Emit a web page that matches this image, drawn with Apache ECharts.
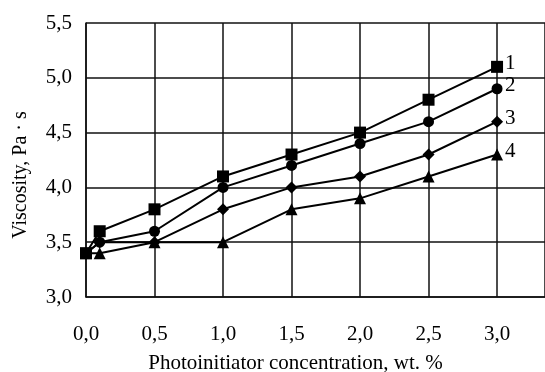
<!DOCTYPE html>
<html>
<head>
<meta charset="utf-8">
<script src="https://cdn.jsdelivr.net/npm/echarts@6/dist/echarts.min.js"></script>
<style>
  html, body { margin: 0; padding: 0; background: #fff; }
  #chart { width: 545px; height: 372px; }
</style>
</head>
<body>
<div id="chart"></div>
<script>
// photoinitiator concentration, wt. %
const conc = [0.0, 0.1, 0.5, 1.0, 1.5, 2.0, 2.5, 3.0]
// viscosity, Pa·s, curves 1..4
const visc1 = [3.4, 3.6, 3.8, 4.1, 4.3, 4.5, 4.8, 5.1]
const visc2 = [3.4, 3.5, 3.6, 4.0, 4.2, 4.4, 4.6, 4.9]
const visc3 = [3.4, 3.5, 3.5, 3.8, 4.0, 4.1, 4.3, 4.6]
const visc4 = [3.4, 3.4, 3.5, 3.5, 3.8, 3.9, 4.1, 4.3]
const curveNames = ['1', '2', '3', '4']
const symbols = ['rect', 'circle', 'diamond', 'triangle']

const font = 'Liberation Serif'
const myChart = echarts.init(document.getElementById('chart'))

const makeSeries = (vals, i) => ({
  name: curveNames[i],
  type: 'line',
  data: conc.map((x, k) => [x, vals[k]]),
  symbol: symbols[i],
  symbolSize: i === 1 ? 11 : 12,
  showAllSymbol: true,
  lineStyle: { color: '#000', width: 2 },
  itemStyle: { color: '#000' },
  endLabel: {
    show: true,
    formatter: '{a}',
    color: '#000',
    fontFamily: font,
    fontSize: 21,
    distance: 8,
    offset: [0, -3],
  },
  animation: false,
  z: 5,
})

const option = {
  backgroundColor: '#fff',
  grid: { left: 86, right: 0, top: 23, bottom: 75, containLabel: false, outerBoundsMode: 'none' },
  xAxis: {
    type: 'value',
    min: 0,
    max: 3.35,
    interval: 0.5,
    name: 'Photoinitiator concentration, wt. %',
    nameLocation: 'middle',
    nameGap: 56,
    nameTextStyle: { color: '#000', fontFamily: font, fontSize: 21, padding: [0, 0, 0, -40] },
    axisLine: { lineStyle: { color: '#111', width: 1.5 } },
    axisTick: { show: false },
    axisLabel: {
      color: '#000',
      fontFamily: font,
      fontSize: 21,
      margin: 27,
      formatter: (v) => (v > 3.01 ? '' : v.toFixed(1).replace('.', ',')),
    },
    splitLine: { show: true, lineStyle: { color: '#111', width: 1.5 } },
  },
  yAxis: {
    type: 'value',
    min: 3.0,
    max: 5.5,
    interval: 0.5,
    name: 'Viscosity, Pa · s',
    nameLocation: 'middle',
    nameGap: 55,
    nameTextStyle: { color: '#000', fontFamily: font, fontSize: 20, padding: [0, 0, 0, -30] },
    axisLine: { show: true, lineStyle: { color: '#111', width: 1.5 } },
    axisTick: { show: false },
    axisLabel: {
      color: '#000',
      fontFamily: font,
      fontSize: 21,
      margin: 14,
      formatter: (v) => v.toFixed(1).replace('.', ','),
    },
    splitLine: { show: true, lineStyle: { color: '#111', width: 1.5 } },
  },
  series: [visc1, visc2, visc3, visc4].map(makeSeries),
}

myChart.setOption(option)
</script>
</body>
</html>
